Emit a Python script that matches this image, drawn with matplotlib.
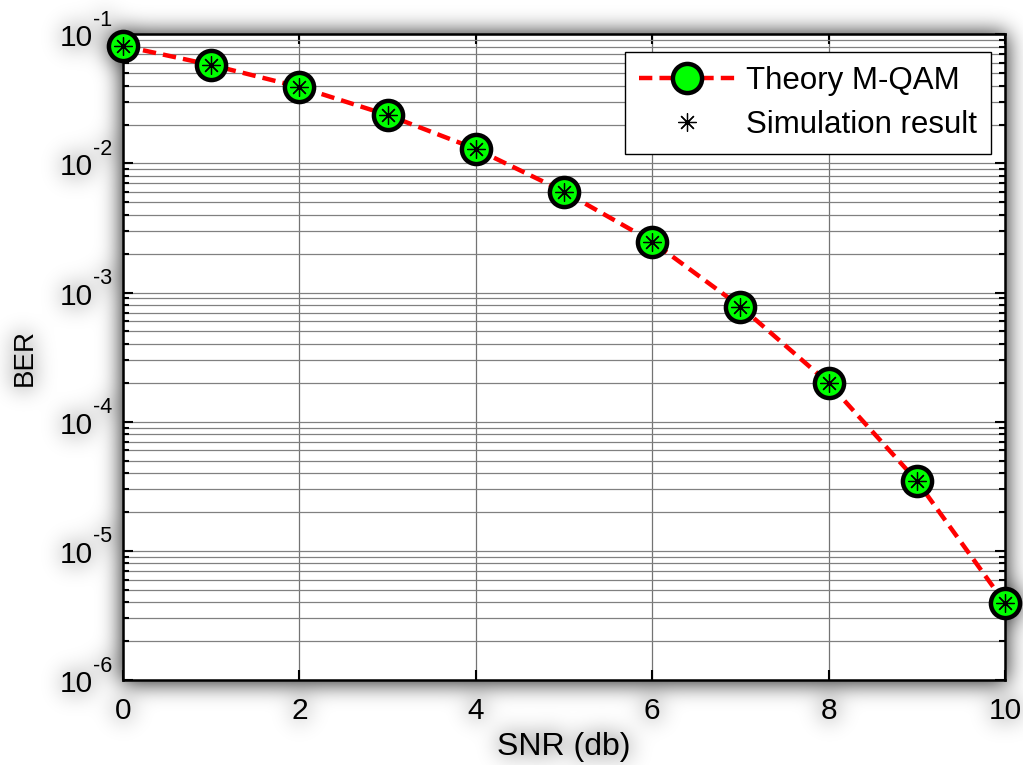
import numpy as np
import matplotlib
matplotlib.use('Agg')
import matplotlib.pyplot as plt
from matplotlib.ticker import LogLocator, NullFormatter
from matplotlib.transforms import blended_transform_factory, ScaledTranslation

plt.rcParams['font.family'] = ['Liberation Sans', 'DejaVu Sans']
plt.rcParams['axes.unicode_minus'] = False

# BER vs SNR for M-QAM: theory curve and simulation points
snr_db = [0, 1, 2, 3, 4, 5, 6, 7, 8, 9, 10]
ber_theory = [0.0812, 0.0579, 0.0391, 0.0237, 0.01295, 0.00605,
              0.00248, 0.00078, 0.000199, 3.49e-5, 3.93e-6]
ber_sim = [0.0812, 0.0579, 0.0391, 0.0237, 0.01295, 0.00605,
           0.00248, 0.00078, 0.000199, 3.49e-5, 3.93e-6]
x_ticks = [0, 2, 4, 6, 8, 10]
y_exponents = [-6, -5, -4, -3, -2, -1]


def blur(a, s):
    r = int(3 * s)
    k = np.exp(-0.5 * (np.arange(-r, r + 1) / s) ** 2)
    k /= k.sum()
    a = np.apply_along_axis(lambda v: np.convolve(v, k, mode='same'), 0, a)
    a = np.apply_along_axis(lambda v: np.convolve(v, k, mode='same'), 1, a)
    return a


fig = plt.figure(figsize=(10.23, 7.65), dpi=100)
ax = fig.add_axes([0.1202, 0.1111, 0.8622, 0.8441])
ax.set_facecolor('white')

ax.semilogy(snr_db, ber_theory, '--', color='#ff0000', lw=3.2, dashes=(3, 1.6),
            marker='o', ms=21, mfc='#00ff00', mec='black', mew=3.2,
            label='Theory M-QAM', zorder=3, clip_on=False)
ax.semilogy(snr_db, ber_sim, ls='none', marker=(8, 2, 0), ms=13, mec='black',
            mew=0.9, color='black', label='Simulation result', zorder=4,
            clip_on=False)

ax.set_xlim(0, 10)
ax.set_ylim(1e-6, 1e-1)
ax.set_xticks(x_ticks)
ax.yaxis.set_major_locator(LogLocator(base=10, numticks=10))
ax.yaxis.set_major_formatter(NullFormatter())
ax.yaxis.set_minor_locator(LogLocator(base=10, subs=np.arange(2, 10), numticks=20))
ax.yaxis.set_minor_formatter(NullFormatter())

ax.grid(True, which='major', axis='x', color='0.45', lw=0.9)
ax.grid(True, which='both', axis='y', color='0.5', lw=0.9)
ax.set_axisbelow(True)

ax.tick_params(which='both', direction='in', top=True, right=True,
               labelsize=21.5, width=1.5, color='black')
ax.tick_params(which='major', length=7)
ax.tick_params(which='minor', length=4)
ax.tick_params(axis='x', pad=12)
for sp in ax.spines.values():
    sp.set_linewidth(1.8)
    sp.set_color('black')

# decade labels drawn as "10" with a large raised exponent
ytrans = blended_transform_factory(ax.transAxes, ax.transData)
for e in y_exponents:
    ax.text(0, 10.0 ** e, '10', fontsize=21.5, ha='right', va='baseline',
            transform=ytrans + ScaledTranslation(-0.30, -0.12, fig.dpi_scale_trans))
    ax.text(0, 10.0 ** e, '-%d' % (-e), fontsize=15.5, ha='left', va='baseline',
            transform=ytrans + ScaledTranslation(-0.30, 0.085, fig.dpi_scale_trans))

ax.set_xlabel('SNR (db)', fontsize=23, labelpad=5)
ax.set_ylabel('BER', fontsize=20)
ax.yaxis.set_label_coords(-0.097, 0.5)

leg = ax.legend(loc='upper right', bbox_to_anchor=(0.9687, 0.932),
                bbox_transform=fig.transFigure, borderaxespad=0,
                fontsize=22.5, fancybox=False, framealpha=1, edgecolor='black',
                handlelength=3.1, handletextpad=0.33, labelspacing=0.45,
                borderpad=0.45)
leg.get_frame().set_linewidth(1.0)

# soft drop shadow behind the axes box and labels
fig.canvas.draw()
buf = np.asarray(fig.canvas.buffer_rgba())[..., :3].astype(float) / 255.0
h, w = buf.shape[:2]
mask = 1.0 - buf.mean(axis=2)
bb = ax.get_window_extent()
x0, x1 = int(bb.x0) + 1, int(bb.x1) + 2
y0, y1 = h - int(bb.y1) - 1, h - int(bb.y0) + 2
mask[max(y0, 0):min(y1, h), max(x0, 0):min(x1, w)] = 1.0
shade = np.clip(blur(mask, 11) * 0.9, 0, 1)
rgba = np.zeros((h, w, 4))
rgba[..., 3] = shade
fig.figimage(rgba, 0, 0, zorder=-1, origin='upper')

fig.savefig('out.png', dpi=100)
